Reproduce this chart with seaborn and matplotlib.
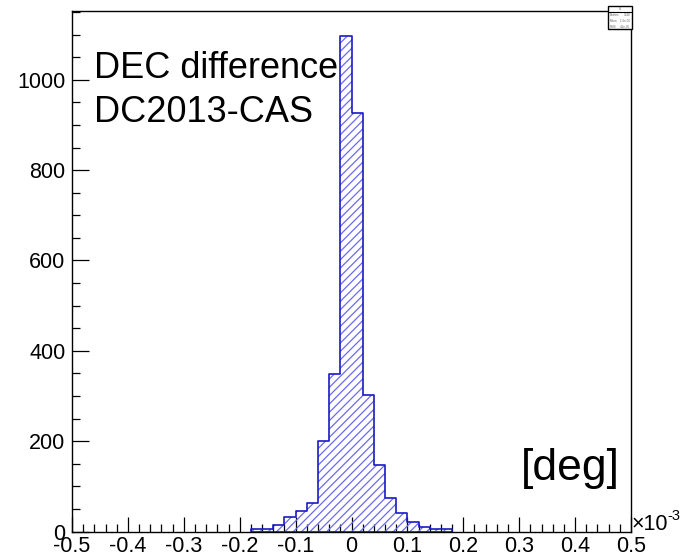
import numpy as np
import pandas as pd
import matplotlib
matplotlib.use("Agg")
import matplotlib.pyplot as plt
import seaborn as sns
from matplotlib.ticker import MultipleLocator, FuncFormatter, FixedLocator
from matplotlib.patches import Rectangle
from matplotlib.lines import Line2D

# ---- data (x in units of 1e-3 deg) ----
bin_left_edges = [-0.18, -0.16, -0.14, -0.12, -0.10, -0.08, -0.06, -0.04, -0.02,
                  0.00, 0.02, 0.04, 0.06, 0.08, 0.10, 0.12, 0.14, 0.16]
bin_width = 0.02
counts = [5, 5, 15, 31, 45, 63, 201, 349, 1098,
          927, 302, 148, 74, 40, 21, 9, 5, 5]
x_ticks = [-0.5, -0.4, -0.3, -0.2, -0.1, 0.0, 0.1, 0.2, 0.3, 0.4, 0.5]
y_ticks = [0, 200, 400, 600, 800, 1000]
title_lines = ["DEC difference", "DC2013-CAS"]
unit_label = "[deg]"
stats_lines = [("Entries", "3348"), ("Mean", "-1.6e-06"), ("RMS", "4.1e-05")]

sns.set_style("white")
plt.rcParams["font.family"] = ["Liberation Sans", "DejaVu Sans"]
plt.rcParams["hatch.linewidth"] = 0.9
plt.rcParams["text.color"] = "black"

W, H = 689, 556
fig = plt.figure(figsize=(W / 100, H / 100), dpi=100)
ax = fig.add_axes([72 / W, 1 - 531.5 / H, (631 - 72) / W, (531.5 - 10.7) / H])

edges = list(bin_left_edges) + [bin_left_edges[-1] + bin_width]
df = pd.DataFrame({"center": np.array(bin_left_edges) + bin_width / 2,
                   "count": counts})

# hatched fill
sns.histplot(data=df, x="center", weights="count", bins=edges, element="step",
             fill=True, color="#6a6af4", facecolor="none", edgecolor="#6a6af4",
             linewidth=0, hatch="////", ax=ax, zorder=1)
# outline
sns.histplot(data=df, x="center", weights="count", bins=edges, element="step",
             fill=True, color="#1a1ac4", facecolor="none", edgecolor="#1a1ac4",
             linewidth=1.2, ax=ax, zorder=1.5)

ax.set_xlim(-0.5, 0.5)
ax.set_ylim(0, 1.05 * max(counts))
ax.set_xlabel("")
ax.set_ylabel("")

ax.xaxis.set_major_locator(FixedLocator(x_ticks))
ax.xaxis.set_minor_locator(MultipleLocator(0.02))
ax.yaxis.set_major_locator(FixedLocator(y_ticks))
ax.yaxis.set_minor_locator(MultipleLocator(50))
ax.xaxis.set_major_formatter(FuncFormatter(lambda v, p: f"{v:g}"))
ax.yaxis.set_major_formatter(FuncFormatter(lambda v, p: f"{v:g}"))

ax.tick_params(which="both", direction="in", top=False, right=False,
               bottom=True, left=True, color="black", labelcolor="black")
ax.tick_params(axis="x", which="major", length=11, width=0.9, labelsize=15.5, pad=3)
ax.tick_params(axis="x", which="minor", length=5.8, width=0.9)
ax.tick_params(axis="y", which="major", length=12, width=0.9, labelsize=15.5, pad=4.7)
ax.tick_params(axis="y", which="minor", length=6, width=0.9)
for s in ax.spines.values():
    s.set_color("black")
    s.set_linewidth(1.0)
    s.set_visible(True)

# annotations
fig.text(94 / W, 1 - 78.3 / H, title_lines[0], fontsize=26, va="baseline", ha="left")
fig.text(94 / W, 1 - 121.7 / H, title_lines[1], fontsize=26, va="baseline", ha="left")
fig.text(520.5 / W, 1 - 480 / H, unit_label, fontsize=32, va="baseline", ha="left")
fig.text(632 / W, 1 - 530 / H, "\u00d710", fontsize=15.5, va="baseline", ha="left")
fig.text(667 / W, 1 - 520 / H, "-3", fontsize=10.5, va="baseline", ha="left")

# tiny stats box
bx0, by0, bx1, by1 = 608, 5.5, 632, 29.3
fig.add_artist(Rectangle((bx0 / W, 1 - by1 / H), (bx1 - bx0) / W, (by1 - by0) / H,
                         transform=fig.transFigure, facecolor="white",
                         edgecolor="black", linewidth=1.0, zorder=5))
fig.add_artist(Line2D([bx0 / W, bx1 / W], [1 - 11.7 / H, 1 - 11.7 / H],
                      transform=fig.transFigure, color="black", lw=0.8, zorder=6))
fig.text((bx0 + bx1) / 2 / W, 1 - 8.6 / H, "h1", fontsize=2.2, color="0.4",
         ha="center", va="center", zorder=7)
for i, (k, v) in enumerate(stats_lines):
    yy = 1 - (15.5 + i * 5.6) / H
    fig.text((bx0 + 1.5) / W, yy, k, fontsize=2.2, color="0.4", ha="left", va="center", zorder=7)
    fig.text((bx1 - 1.5) / W, yy, v, fontsize=2.2, color="0.4", ha="right", va="center", zorder=7)

fig.savefig("out.png", dpi=100)
